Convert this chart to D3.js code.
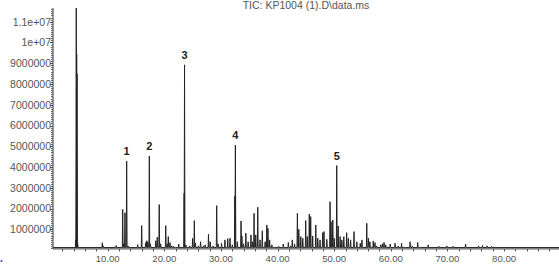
<!DOCTYPE html>
<html><head><meta charset="utf-8">
<script src="https://cdn.jsdelivr.net/npm/d3@7"></script>
<style>
html,body{margin:0;padding:0;background:#fff;overflow:hidden}
svg{display:block}
</style></head>
<body>
<svg id="chart" width="559" height="274"></svg>
<script>
// ---- data (retention time in min, abundance in counts) ----
const titleText = "TIC: KP1004 (1).D\\data.ms";
const peakTimes = [4.35,4.45,4.52,4.58,4.7,9.05,9.2,11.5,12.65,12.8,13.05,13.35,13.6,15.3,16.0,16.7,16.9,17.1,17.35,17.55,18.5,18.75,19.1,19.35,20.25,20.5,20.7,21.0,21.3,21.6,22.0,22.55,23.5,23.57,23.8,24.5,25.0,25.3,25.5,26.0,26.4,26.9,27.2,27.8,28.1,28.6,29.25,29.5,30.1,30.7,31.2,31.6,32.0,32.45,32.55,32.9,33.55,33.7,34.0,34.4,34.8,35.3,35.6,35.85,36.15,36.5,36.9,37.3,37.8,38.1,38.3,38.6,39.0,39.5,40.2,41.0,41.9,42.3,42.6,43.0,43.5,43.75,44.1,44.45,44.97,45.25,45.6,45.85,46.2,46.75,47.1,47.5,47.97,48.2,48.7,49.27,49.45,49.75,50.0,50.45,50.7,51.05,51.35,51.7,52.2,52.5,52.9,53.5,54.0,54.6,54.9,55.75,56.05,56.3,56.9,57.2,57.5,58.2,58.5,58.8,59.1,59.9,60.75,61.3,61.9,62.5,63.4,63.8,64.75,65.2,66.6,68.5,69.9,71.0,73.2,75.5,76.2,77.0,77.8];
const peakHeights = [490000,12500000,9450000,8500000,300000,350000,200000,220000,1960000,300000,1800000,4290000,200000,260000,1180000,350000,450000,400000,4530000,300000,450000,620000,2190000,300000,1180000,300000,650000,360000,200000,180000,150000,280000,2740000,8920000,250000,200000,570000,1420000,330000,200000,400000,200000,250000,760000,400000,200000,2140000,300000,330000,490000,550000,570000,250000,2600000,5060000,400000,1400000,680000,300000,810000,400000,730000,400000,1770000,730000,2060000,490000,930000,400000,1210000,1050000,490000,250000,150000,180000,290000,360000,200000,490000,300000,1770000,1000000,650000,570000,1420000,650000,1740000,1610000,680000,1210000,570000,490000,840000,890000,520000,2330000,1370000,1450000,570000,4070000,1160000,650000,490000,650000,840000,570000,490000,890000,400000,330000,490000,1290000,570000,400000,440000,360000,200000,250000,300000,370000,250000,290000,330000,200000,330000,150000,400000,200000,370000,150000,250000,180000,200000,180000,290000,200000,220000,200000,180000];
const baselineLevel = 120000;
const labelNames = ["1","2","3","4","5"];
const labelTimes = [13.35,17.35,23.57,32.55,50.45];
const labelHeights = [4290000,4530000,8920000,5060000,4070000];
const xTickValues = [10,20,30,40,50,60,70,80];
const yTickValues = [1000000,2000000,3000000,4000000,5000000,6000000,7000000,8000000,9000000,10000000,11000000];
const yTickLabels = ["1000000","2000000","3000000","4000000","5000000","6000000","7000000","8000000","9000000","1e+07","1.1e+07"];

// ---- layout ----
const svg = d3.select("#chart");
const x = d3.scaleLinear().domain([0.34, 89.7]).range([53, 559]);
const y = d3.scaleLinear().domain([80000, 11660000]).range([248.4, 8]);

svg.append("defs").append("clipPath").attr("id","plotclip")
  .append("rect").attr("x",53).attr("y",8).attr("width",506).attr("height",241);

// title
svg.append("text").attr("x",306).attr("y",8.6)
  .attr("text-anchor","middle").attr("font-family","Liberation Sans, Arial, sans-serif")
  .attr("font-size",10.5).attr("fill","#555").text(titleText);

// signal path built from peaks
const order = d3.range(peakTimes.length).sort((a,b)=>peakTimes[a]-peakTimes[b]);
const dw = 0.07;
const pts = [[x.domain()[0], baselineLevel]];
order.forEach(i=>{
  pts.push([peakTimes[i]-dw, baselineLevel]);
  pts.push([peakTimes[i], peakHeights[i]]);
  pts.push([peakTimes[i]+dw, baselineLevel]);
});
pts.push([x.domain()[1], baselineLevel]);
const line = d3.line().x(d=>x(d[0])).y(d=>y(d[1]));
svg.append("path").attr("clip-path","url(#plotclip)")
  .attr("d", line(pts)).attr("fill","none").attr("stroke","#222").attr("stroke-width",1);

// axes
const font = "Liberation Sans, Arial, sans-serif";
const yAxis = svg.append("g").attr("transform","translate(53,0)");
yAxis.append("line").attr("x1",0).attr("x2",0).attr("y1",8).attr("y2",248.4).attr("stroke","#333");
const yMinor = d3.range(100000, 11600001, 100000);
yAxis.selectAll("line.minor").data(yMinor).enter().append("line").attr("class","minor")
  .attr("x1",-2).attr("x2",0).attr("y1",d=>Math.round(y(d))+0.5).attr("y2",d=>Math.round(y(d))+0.5)
  .attr("stroke","#666");
yAxis.selectAll("line.major").data(yTickValues).enter().append("line").attr("class","major")
  .attr("x1",-3).attr("x2",0).attr("y1",d=>Math.round(y(d))+0.5).attr("y2",d=>Math.round(y(d))+0.5)
  .attr("stroke","#444");
yAxis.selectAll("text").data(yTickValues).enter().append("text")
  .attr("x",-2).attr("y",d=>y(d)+3.8).attr("text-anchor","end")
  .attr("font-family",font).attr("font-size",10.5).attr("fill","#555")
  .text((d,i)=>yTickLabels[i]);

const xAxis = svg.append("g");
xAxis.append("line").attr("x1",53).attr("x2",559).attr("y1",248.9).attr("y2",248.9).attr("stroke","#333");
const xMinor = d3.range(2, 90, 2);
xAxis.selectAll("line.minor").data(xMinor).enter().append("line").attr("class","minor")
  .attr("x1",d=>Math.round(x(d))+0.5).attr("x2",d=>Math.round(x(d))+0.5).attr("y1",249).attr("y2",251.5)
  .attr("stroke","#555");
xAxis.selectAll("text").data(xTickValues).enter().append("text")
  .attr("x",d=>x(d)).attr("y",261.5).attr("text-anchor","middle")
  .attr("font-family",font).attr("font-size",9.6).attr("fill","#555")
  .text(d=>d3.format(".2f")(d));

// peak labels
svg.selectAll("text.pl").data(labelNames).enter().append("text").attr("class","pl")
  .attr("x",(d,i)=>x(labelTimes[i])).attr("y",(d,i)=>y(labelHeights[i])-6)
  .attr("text-anchor","middle").attr("font-family",font).attr("font-weight","bold")
  .attr("font-size",11).attr("fill","#222").text(d=>d);

// small blue mark at bottom-left
svg.append("circle").attr("cx",1.5).attr("cy",261).attr("r",1.1).attr("fill","#3a4fb0");
</script>
</body></html>
